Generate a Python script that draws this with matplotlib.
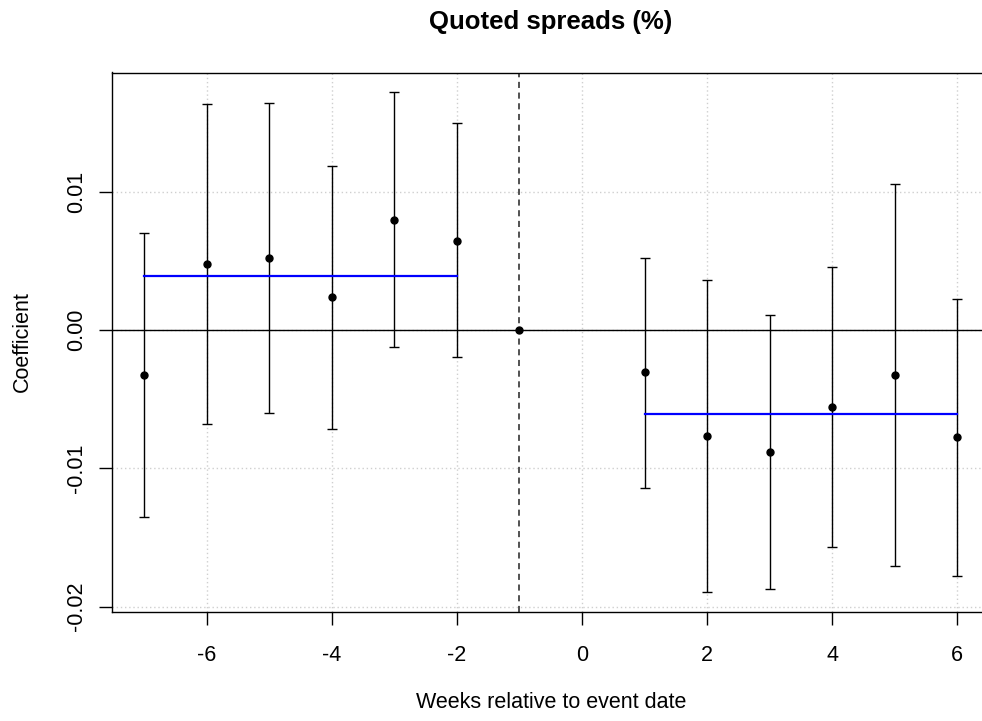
import matplotlib
matplotlib.use("Agg")
import matplotlib.pyplot as plt
import numpy as np

# Data
weeks = [-7, -6, -5, -4, -3, -2, -1, 1, 2, 3, 4, 5, 6]
coef = [-0.00326, 0.00479, 0.00522, 0.00240, 0.00797, 0.00643, 0.0,
        -0.00307, -0.00765, -0.00881, -0.00555, -0.00324, -0.00774]
upper = [0.00703, 0.01633, 0.01641, 0.01189, 0.01717, 0.01493, None,
         0.00522, 0.00363, 0.00112, 0.00452, 0.01059, 0.00226]
lower = [-0.01349, -0.00678, -0.00601, -0.00719, -0.00121, -0.00196, None,
         -0.01141, -0.01893, -0.01873, -0.01565, -0.01703, -0.01779]
pre_mean = 0.00392
pre_range = [-7, -2]
post_mean = -0.00606
post_range = [1, 6]
event_line = -1
xticks = [-6, -4, -2, 0, 2, 4, 6]
yticks = [0.01, 0.00, -0.01, -0.02]
ytick_labels = ["0.01", "0.00", "-0.01", "-0.02"]

plt.rcParams['font.family'] = ['Liberation Sans', 'DejaVu Sans']

fig = plt.figure(figsize=(9.82, 7.21), dpi=100)
ax = fig.add_axes([111.7 / 982, 1 - 611.9 / 721, (989.8 - 111.7) / 982, (611.9 - 72.5) / 721])

xs = np.array(weeks, dtype=float)
ys = np.array(coef)

# limits like R (4% extension)
all_y = [v for v in upper + lower if v is not None] + coef
ymin, ymax = min(all_y), max(all_y)
yr = ymax - ymin
ax.set_ylim(ymin - 0.04 * yr, ymax + 0.04 * yr)
xr = max(weeks) - min(weeks)
ax.set_xlim(min(weeks) - 0.04 * xr, max(weeks) + 0.04 * xr)

# grid
for xt in xticks:
    ax.axvline(xt, color='#CFCFCF', lw=1.0, ls=(0, (1, 2)), zorder=0)
for yt in yticks:
    ax.axhline(yt, color='#CFCFCF', lw=1.0, ls=(0, (1, 2)), zorder=0)

# zero line and event line
ax.axhline(0, color='black', lw=1.0, zorder=1)
ax.axvline(event_line, color='#222222', lw=1.1, ls=(0, (4, 3)), zorder=1)

# error bars
for x, lo, hi in zip(weeks, lower, upper):
    if lo is None:
        continue
    ax.errorbar([x], [(lo + hi) / 2], yerr=[[(hi - lo) / 2], [(hi - lo) / 2]],
                fmt='none', ecolor='black', elinewidth=1.0, capsize=3.6,
                capthick=1.0, zorder=2)

# points
ax.plot(xs, ys, 'o', color='black', markersize=5, zorder=3)

# mean lines
ax.plot(pre_range, [pre_mean, pre_mean], color='#0000FF', lw=1.6, zorder=2.5)
ax.plot(post_range, [post_mean, post_mean], color='#0000FF', lw=1.6, zorder=2.5)

ax.set_xticks(xticks)
ax.set_xticklabels([str(t) for t in xticks])
ax.set_yticks(yticks)
ax.set_yticklabels(ytick_labels, rotation=90, va='center')

ax.tick_params(axis='both', direction='out', length=9.5, width=1.0,
               labelsize=15.5, colors='black')
ax.tick_params(axis='x', pad=14)
ax.tick_params(axis='y', pad=8)

for s in ax.spines.values():
    s.set_linewidth(1.0)
    s.set_color('black')

fig.text(550.7 / 982, 1 - 703 / 721, "Weeks relative to event date",
         ha='center', va='center', fontsize=15.5)
fig.text(22.5 / 982, 1 - 342 / 721, "Coefficient", rotation=90,
         ha='center', va='center', fontsize=15.5)
fig.text(550.7 / 982, 1 - 22 / 721, "Quoted spreads (%)",
         ha='center', va='center', fontsize=18.5, fontweight='bold')

fig.savefig("out.png", dpi=100)
